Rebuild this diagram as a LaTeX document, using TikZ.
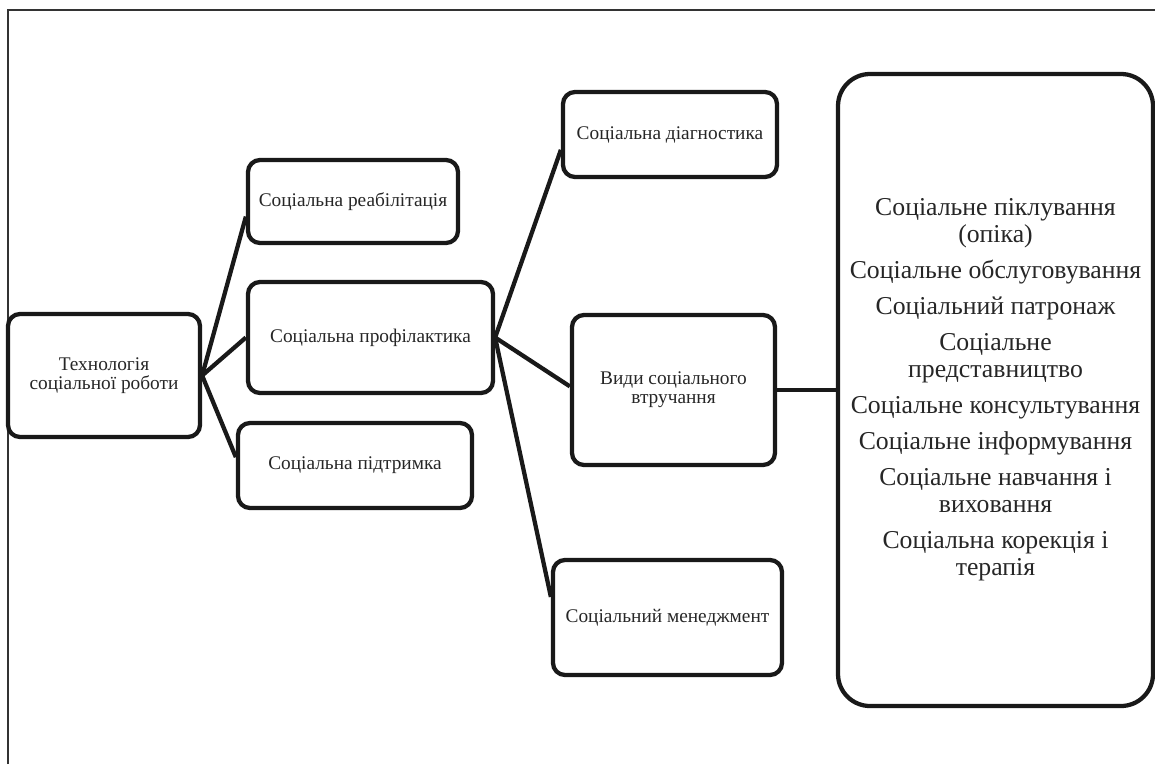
\documentclass[tikz,border=0pt]{standalone}
\usepackage{fontspec}
\setmainfont{Liberation Serif}
\usetikzlibrary{positioning}

\begin{document}
\begin{tikzpicture}[
  x=0.75pt, y=-0.75pt,
  font=\fontsize{14.5}{14.5}\selectfont,
  box/.style={draw=black!90, line width=3.2pt, rounded corners=9pt,
    align=center, inner sep=2pt, text=black!85},
  bigbox/.style={box, rounded corners=24pt,
    font=\fontsize{19.3}{20.25}\selectfont},
  link/.style={draw=black!90, line width=3.2pt},
  frame/.style={draw=black!80, line width=1.5pt},
]
  \useasboundingbox (0,0) rectangle (1155,764);
  \draw[frame] (8,764) -- (8,10) -- (1155,10);

  % Left column -> middle column -> kinds of intervention
  \node[box, minimum width=144pt, minimum height=92.25pt] (tech) at (104,375.5)
        {Технологія\\соціальної роботи};
  \node[box, minimum width=157.5pt, minimum height=62.25pt] (reab) at (353,201.5)
        {Соціальна реабілітація};
  \node[box, minimum width=183.75pt, minimum height=83.25pt] (profil) at (370.5,337.5)
        {Соціальна профілактика};
  \node[box, minimum width=175.5pt, minimum height=63.75pt] (pidtr) at (355,465.5)
        {Соціальна підтримка};
  \node[box, minimum width=160.5pt, minimum height=63.75pt] (diag) at (670,134.5)
        {Соціальна діагностика};
  \node[box, minimum width=152.25pt, minimum height=112.5pt] (vtr) at (673.5,390)
        {Види соціального\\втручання};
  \node[box, minimum width=171.75pt, minimum height=86.25pt] (men) at (667.5,617.5)
        {Соціальний менеджмент};
  \node[bigbox, minimum width=236.25pt, minimum height=474pt] (kinds) at (995.5,390)
        {Соціальне піклування\\(опіка)\\[6.75pt]
         Соціальне обслуговування\\[6.75pt]
         Соціальний патронаж\\[6.75pt]
         Соціальне\\представництво\\[6.75pt]
         Соціальне консультування\\[6.75pt]
         Соціальне інформування\\[6.75pt]
         Соціальне навчання і\\виховання\\[6.75pt]
         Соціальна корекція і\\терапія};

  \draw[link] (tech.east) -- (reab.188);
  \draw[link] (tech.east) -- (profil.west);
  \draw[link] (tech.east) -- (pidtr.176);
  \draw[link] (profil.east) -- (diag.188);
  \draw[link] (profil.east) -- (vtr.178);
  \draw[link] (profil.east) -- (men.170);
  \draw[link] (vtr.east) -- (kinds.west);
\end{tikzpicture}
\end{document}
